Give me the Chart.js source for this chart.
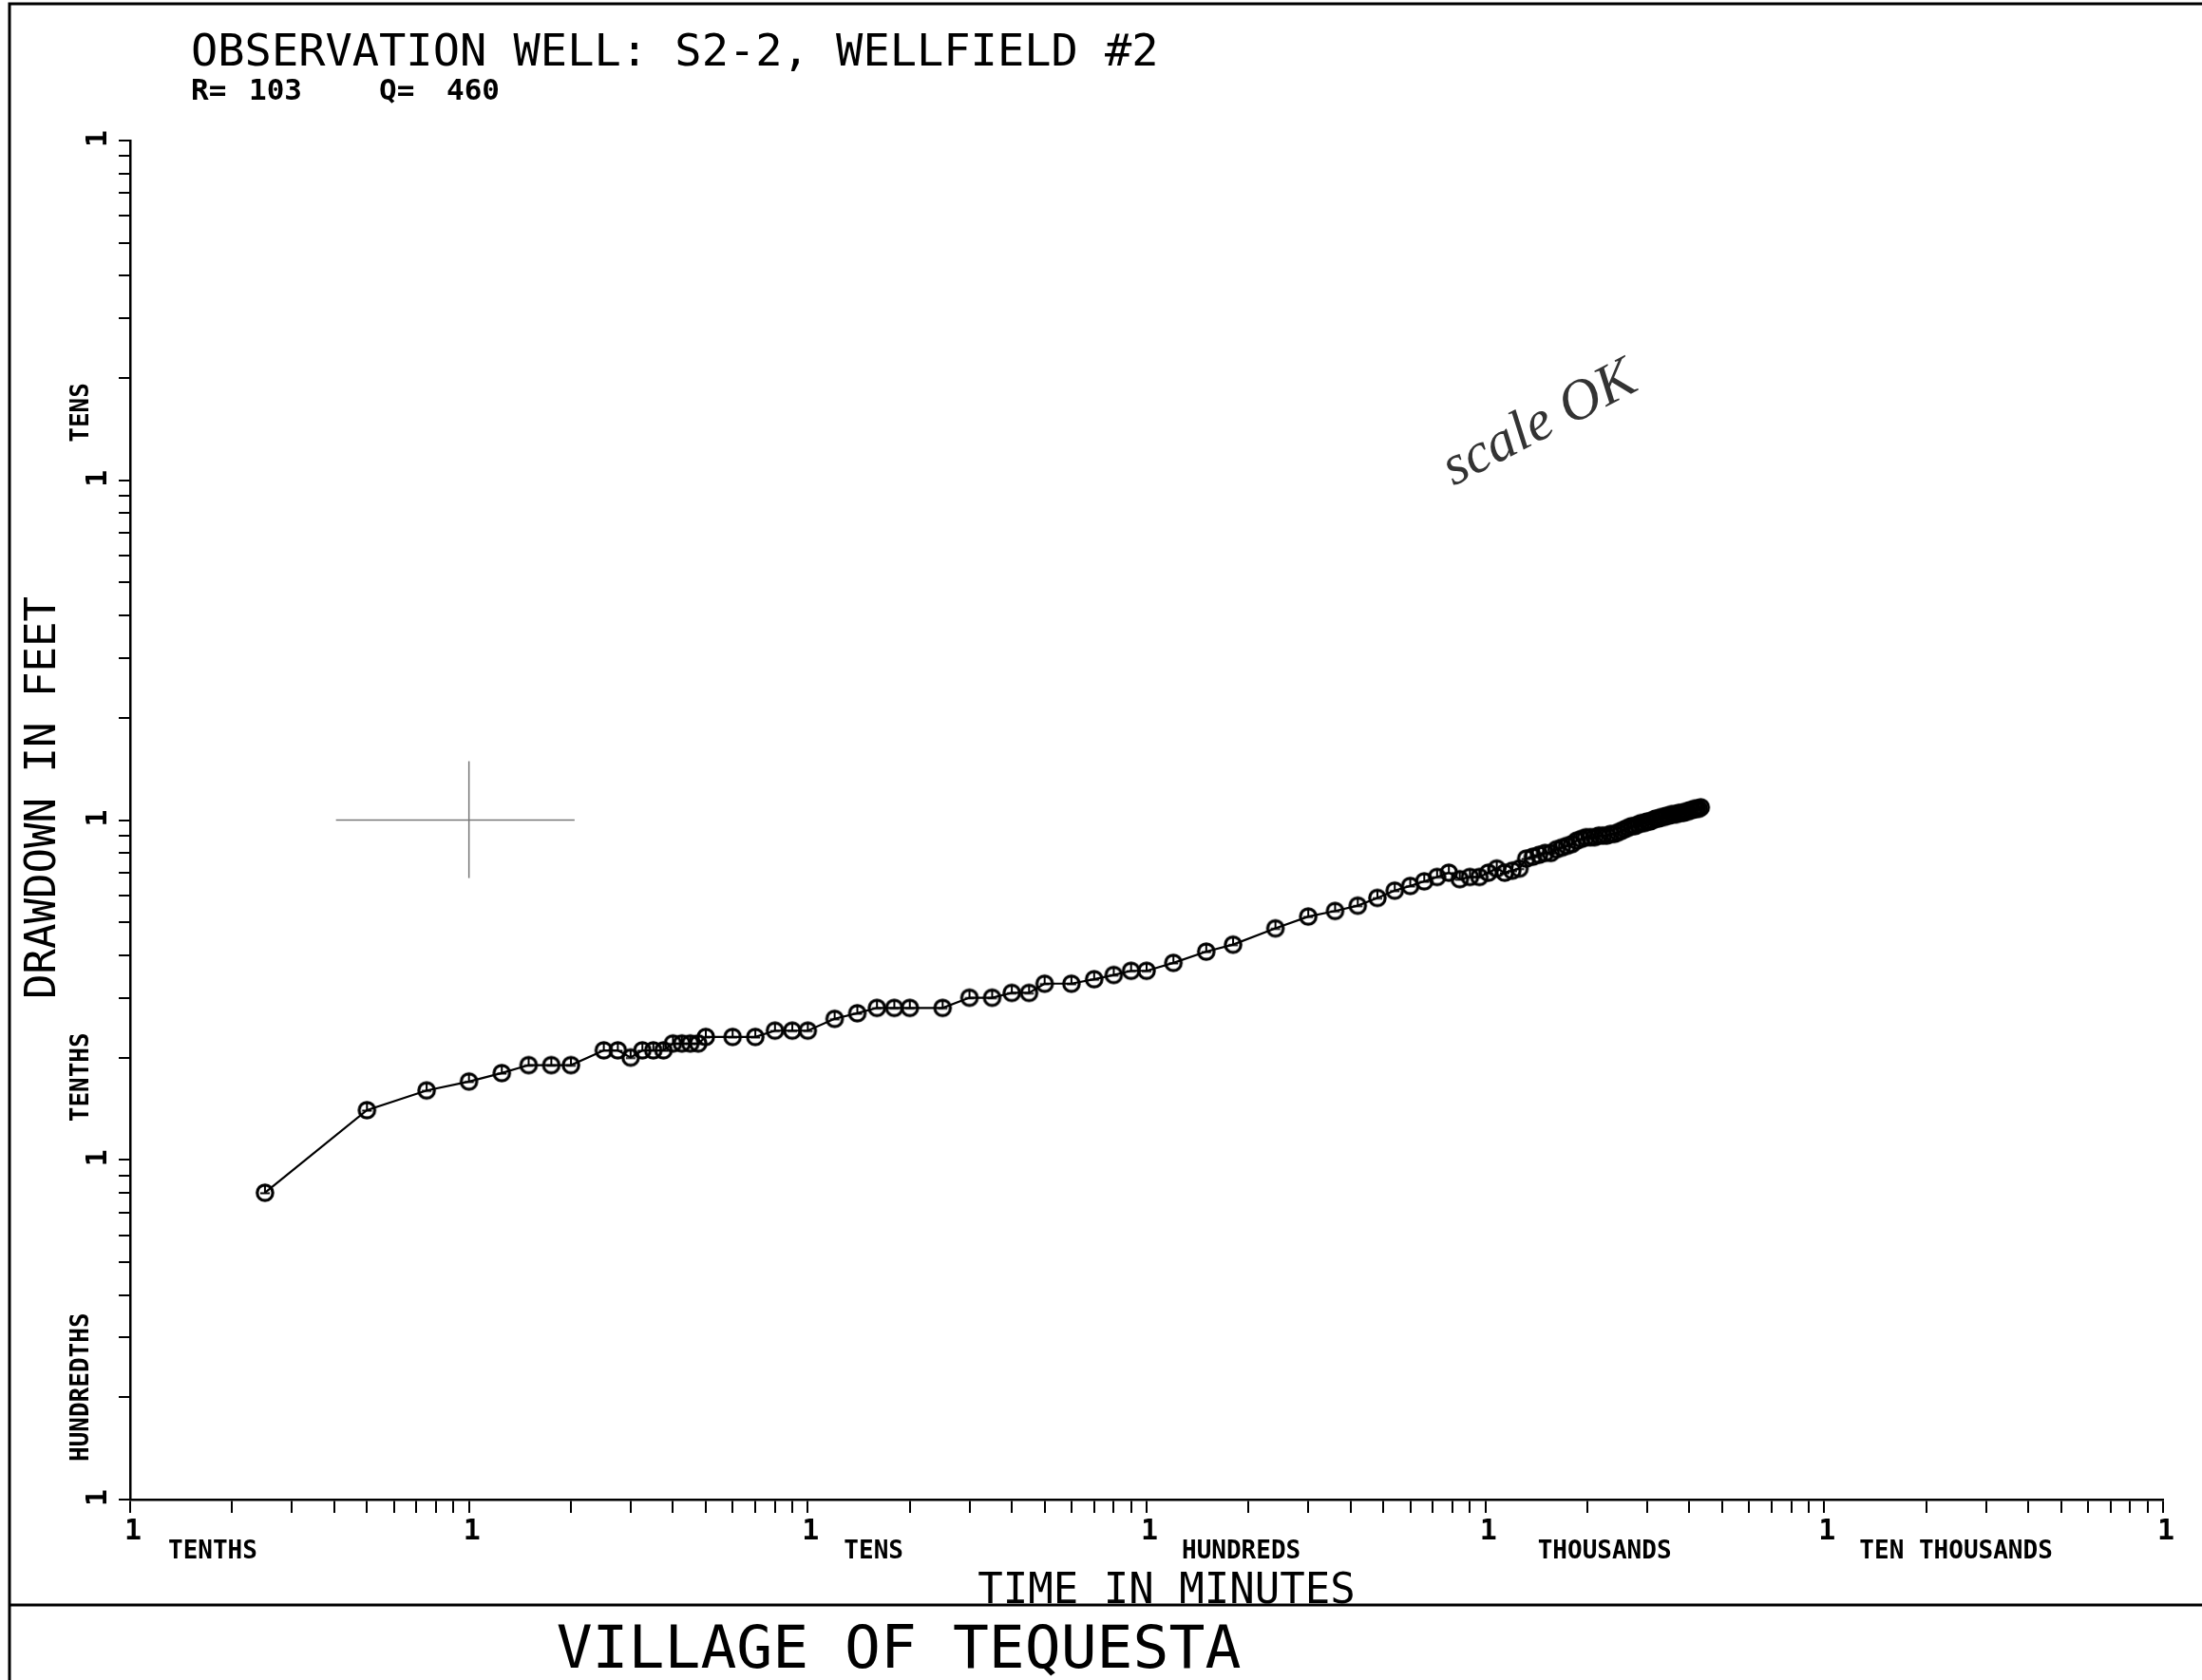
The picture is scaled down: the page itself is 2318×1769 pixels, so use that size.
<!DOCTYPE html>
<html>
<head>
<meta charset="utf-8">
<title>Observation Well S2-2 drawdown</title>
<script src="https://cdn.jsdelivr.net/npm/chart.js@4.4.1/dist/chart.umd.min.js"></script>
<style>
    html, body { margin: 0; padding: 0; background: #fff; }
    #wrap { width: 2318px; height: 1769px; position: relative; }
</style>
</head>
<body>
<div id="wrap"><canvas id="plot" width="2318" height="1769"></canvas></div>
<script>
// Pump test readings
const timeMinutes = [
    0.25, 0.5, 0.75, 1, 1.25, 1.5, 1.75, 2, 2.5, 2.75,
    3, 3.25, 3.5, 3.75, 4, 4.25, 4.5, 4.75, 5,
    6, 7, 8, 9, 10, 12, 14, 16, 18, 20,
    25, 30, 35, 40, 45, 50, 60, 70, 80, 90, 100,
    120, 150, 180,
    240, 300, 360, 420, 480, 540, 600, 660, 720, 780,
    840, 900, 960, 1020, 1080, 1140, 1200, 1260, 1320, 1380,
    1440, 1500, 1560, 1620, 1680, 1740, 1800, 1860, 1920, 1980,
    2040, 2100, 2160, 2220, 2280, 2340, 2400, 2460, 2520, 2580,
    2640, 2700, 2760, 2820, 2880, 2940, 3000, 3060, 3120, 3180,
    3240, 3300, 3360, 3420, 3480, 3540, 3600, 3660, 3720, 3780,
    3840, 3900, 3960, 4020, 4080, 4140, 4200, 4260, 4320
];
const drawdownFeet = [
    0.08, 0.14, 0.16, 0.17, 0.18, 0.19, 0.19, 0.19, 0.21, 0.21,
    0.20, 0.21, 0.21, 0.21, 0.22, 0.22, 0.22, 0.22, 0.23,
    0.23, 0.23, 0.24, 0.24, 0.24, 0.26, 0.27, 0.28, 0.28, 0.28,
    0.28, 0.30, 0.30, 0.31, 0.31, 0.33, 0.33, 0.34, 0.35, 0.36, 0.36,
    0.38, 0.41, 0.43,
    0.48, 0.52, 0.54, 0.56, 0.59, 0.62, 0.64, 0.66, 0.68, 0.70,
    0.67, 0.68, 0.68, 0.70, 0.72, 0.70, 0.71, 0.72, 0.77, 0.78,
    0.79, 0.80, 0.80, 0.82, 0.83, 0.84, 0.85, 0.87, 0.88, 0.89,
    0.89, 0.89, 0.90, 0.90, 0.90, 0.91, 0.91, 0.92, 0.93, 0.94,
    0.95, 0.96, 0.96, 0.97, 0.98, 0.98, 0.99, 0.99, 1.00, 1.01,
    1.01, 1.02, 1.02, 1.03, 1.03, 1.04, 1.04, 1.04, 1.05, 1.05,
    1.05, 1.06, 1.06, 1.07, 1.07, 1.08, 1.08, 1.08, 1.09
];

// match-point crosshair at (1 min, 1 ft)
const crossTime = [0.405, 2.05];
const crossDrawdown = [0.675, 1.49];

// log cycles and their names
const xDecades = [0.1, 1, 10, 100, 1000, 10000, 100000];
const yDecades = [0.01, 0.1, 1, 10, 100];
const xCycleNames = ['TENTHS', '', 'TENS', 'HUNDREDS', 'THOUSANDS', 'TEN THOUSANDS'];
const yCycleNames = ['HUNDREDTHS', 'TENTHS', '', 'TENS'];

const MONO = '"DejaVu Sans Mono", "Liberation Mono", monospace';

// 1..9 in each cycle, then the closing decade
function cycleTicks(decades) {
    const out = [];
    decades.forEach((d, i) => {
        if (i === decades.length - 1) {
            out.push({ value: d });
            return;
        }
        for (let k = 1; k <= 9; k++) {
            out.push({ value: +(d * k).toPrecision(4) });
        }
    });
    return out;
}

// plotter symbol: open circle with a little mark inside
function makeMarker() {
    const c = document.createElement('canvas');
    c.width = 24;
    c.height = 24;
    const g = c.getContext('2d');
    g.strokeStyle = '#000';
    g.lineWidth = 3.2;
    g.beginPath();
    g.arc(12, 12, 8.2, 0, Math.PI * 2);
    g.stroke();
    g.lineWidth = 2;
    g.beginPath();
    g.moveTo(12, 4.5);
    g.lineTo(12, 12.5);
    g.moveTo(7, 12.5);
    g.lineTo(17, 12.5);
    g.stroke();
    return c;
}

const readings = timeMinutes.map((t, i) => ({ x: t, y: drawdownFeet[i] }));

const paperPlugin = {
    id: 'paper',
    beforeDraw(chart) {
        const ctx = chart.ctx;
        ctx.save();
        ctx.fillStyle = '#fff';
        ctx.fillRect(0, 0, chart.width, chart.height);
        ctx.restore();
    },
    afterDraw(chart) {
        const ctx = chart.ctx;
        const xs = chart.scales.x;
        const ys = chart.scales.y;
        ctx.save();
        ctx.fillStyle = '#000';
        ctx.strokeStyle = '#000';

        // sheet frame
        ctx.lineWidth = 3;
        ctx.beginPath();
        ctx.moveTo(10, 1769);
        ctx.lineTo(10, 4);
        ctx.lineTo(2318, 4);
        ctx.moveTo(10, 1690);
        ctx.lineTo(2318, 1690);
        ctx.stroke();

        // headings
        ctx.textBaseline = 'alphabetic';
        ctx.textAlign = 'left';
        ctx.font = '47px ' + MONO;
        ctx.fillText('OBSERVATION WELL: S2-2, WELLFIELD #2', 201, 69);
        ctx.font = 'bold 31px ' + MONO;
        ctx.fillText('R=', 201, 105);
        ctx.fillText('103', 262, 105);
        ctx.fillText('Q=', 399, 105);
        ctx.fillText('460', 470, 105);

        // cycle "1" marks
        ctx.font = 'bold 30px ' + MONO;
        ctx.textAlign = 'center';
        ctx.textBaseline = 'middle';
        xDecades.forEach(v => {
            ctx.fillText('1', xs.getPixelForValue(v) + 3, 1613);
        });
        yDecades.forEach(v => {
            ctx.save();
            ctx.translate(104, ys.getPixelForValue(v) - 2);
            ctx.rotate(-Math.PI / 2);
            ctx.fillText('1', 0, 0);
            ctx.restore();
        });

        // cycle names
        ctx.font = 'bold 26px ' + MONO;
        ctx.textAlign = 'left';
        ctx.textBaseline = 'alphabetic';
        const xShift = [40, 40, 38, 37, 55, 37];
        xCycleNames.forEach((name, i) => {
            if (!name) return;
            ctx.fillText(name, xs.getPixelForValue(xDecades[i]) + xShift[i], 1641);
        });
        ctx.textBaseline = 'middle';
        yCycleNames.forEach((name, i) => {
            if (!name) return;
            ctx.save();
            ctx.translate(86, ys.getPixelForValue(yDecades[i]) - 40);
            ctx.rotate(-Math.PI / 2);
            ctx.fillText(name, 0, 0);
            ctx.restore();
        });

        // axis titles
        ctx.font = '44px ' + MONO;
        ctx.textAlign = 'center';
        ctx.save();
        ctx.translate(47, 840);
        ctx.rotate(-Math.PI / 2);
        ctx.fillText('DRAWDOWN IN FEET', 0, 0);
        ctx.restore();
        ctx.textBaseline = 'alphabetic';
        ctx.fillText('TIME IN MINUTES', 1228, 1688);

        // footer
        ctx.font = '63px ' + MONO;
        ctx.fillText('VILLAGE OF TEQUESTA', 946, 1756);

        // pencil note
        ctx.save();
        ctx.translate(1530, 512);
        ctx.rotate(-0.48);
        ctx.font = 'italic 60px "Liberation Serif", "DejaVu Serif", serif';
        ctx.fillStyle = '#333';
        ctx.textAlign = 'left';
        ctx.fillText('scale OK', 0, 0);
        ctx.restore();

        ctx.restore();
    }
};

const ctx = document.getElementById('plot').getContext('2d');

const plotChart = new Chart(ctx, {
    type: 'scatter',
    data: {
        datasets: [
            {
                label: 'Drawdown',
                data: readings,
                showLine: true,
                borderColor: '#000',
                borderWidth: 2.2,
                pointStyle: makeMarker(),
                pointRadius: 9,
                tension: 0
            },
            {
                label: 'cross-h',
                data: crossTime.map(t => ({ x: t, y: 1 })),
                showLine: true,
                borderColor: '#777',
                borderWidth: 1.5,
                pointRadius: 0
            },
            {
                label: 'cross-v',
                data: crossDrawdown.map(s => ({ x: 1, y: s })),
                showLine: true,
                borderColor: '#777',
                borderWidth: 1.5,
                pointRadius: 0
            }
        ]
    },
    options: {
        responsive: false,
        animation: false,
        devicePixelRatio: 1,
        events: [],
        layout: {
            padding: { left: 125, top: 148, right: 41, bottom: 176 }
        },
        plugins: {
            legend: { display: false },
            tooltip: { enabled: false }
        },
        scales: {
            x: {
                type: 'logarithmic',
                position: 'bottom',
                min: 0.1,
                max: 100000,
                afterBuildTicks: scale => { scale.ticks = cycleTicks(xDecades); },
                ticks: { display: false },
                grid: {
                    display: true,
                    drawOnChartArea: false,
                    drawTicks: true,
                    tickLength: 14,
                    color: '#000',
                    lineWidth: 2
                },
                border: { display: true, color: '#000', width: 2.5 }
            },
            y: {
                type: 'logarithmic',
                position: 'left',
                min: 0.01,
                max: 100,
                afterBuildTicks: scale => { scale.ticks = cycleTicks(yDecades); },
                ticks: { display: false },
                grid: {
                    display: true,
                    drawOnChartArea: false,
                    drawTicks: true,
                    tickLength: 12,
                    color: '#000',
                    lineWidth: 2
                },
                border: { display: true, color: '#000', width: 2.5 }
            }
        }
    },
    plugins: [paperPlugin]
});
</script>
</body>
</html>
